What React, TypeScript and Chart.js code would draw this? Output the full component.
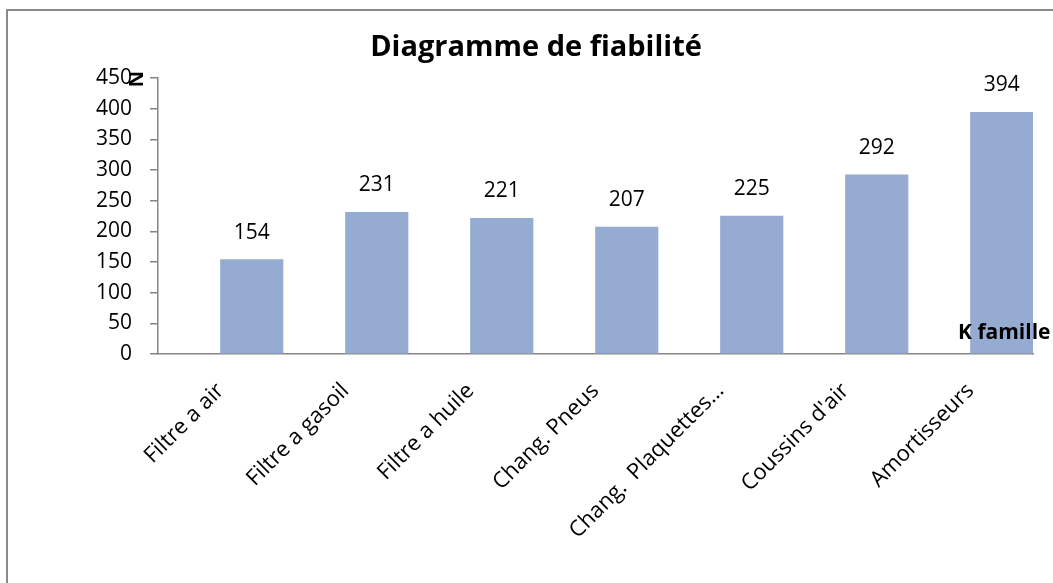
import React, { useEffect, useRef } from "react";
import { Chart, registerables } from "chart.js";

Chart.register(...registerables);

const categories = [
  "Filtre a air",
  "Filtre a gasoil",
  "Filtre a huile",
  "Chang. Pneus",
  "Chang.  Plaquettes…",
  "Coussins d'air",
  "Amortisseurs",
];
const emptySeries = [null, null, null, null, null, null, null];
const kFamille = [154, 231, 221, 207, 225, 292, 394];
const yMin = 0;
const yMax = 450;
const yStep = 50;

const titleText = "Diagramme de fiabilité";
const yTitleText = "N";
const xTitleText = "K famille";

const FONT = "'Open Sans', sans-serif";
const AXIS_COLOR = "#868686";
const BAR_COLOR = "#95abd2";

export default function App() {
  const ref = useRef<HTMLCanvasElement | null>(null);

  useEffect(() => {
    const canvas = ref.current;
    if (!canvas) return;

    const decor = {
      id: "decor",
      afterDraw(chart: any) {
        const ctx = chart.ctx;
        ctx.save();
        // outer frame (top & left visible)
        ctx.strokeStyle = "#8a8a8a";
        ctx.lineWidth = 2;
        ctx.beginPath();
        ctx.moveTo(1060, 10);
        ctx.lineTo(7, 10);
        ctx.lineTo(7, 600);
        ctx.stroke();

        // title
        ctx.fillStyle = "#000";
        ctx.font = `bold 29px ${FONT}`;
        ctx.textAlign = "center";
        ctx.textBaseline = "middle";
        ctx.fillText(titleText, 536, 48);

        // value labels
        const meta = chart.getDatasetMeta(1);
        ctx.font = `21px ${FONT}`;
        meta.data.forEach((bar: any, i: number) => {
          ctx.fillText(String(kFamille[i]), bar.x, bar.y - 27);
        });

        // y title rotated
        ctx.save();
        ctx.translate(137, 79);
        ctx.rotate(-Math.PI / 2);
        ctx.font = `bold 20px ${FONT}`;
        ctx.fillText(yTitleText, 0, 0);
        ctx.restore();

        // x title
        ctx.font = `bold 21px ${FONT}`;
        ctx.textAlign = "left";
        ctx.fillText(xTitleText, 958, 333);
        ctx.restore();
      },
    };

    const chart = new Chart(canvas, {
      type: "bar",
      data: {
        labels: categories,
        datasets: [
          { label: "", data: emptySeries as any, backgroundColor: BAR_COLOR },
          { label: xTitleText, data: kFamille, backgroundColor: BAR_COLOR },
        ],
      },
      options: {
        responsive: false,
        maintainAspectRatio: false,
        animation: false,
        layout: { padding: { top: 78, right: 20, left: 0, bottom: 0 } },
        datasets: {
          bar: { categoryPercentage: 1, barPercentage: 1 },
        },
        plugins: {
          legend: { display: false },
          tooltip: { enabled: false },
          title: { display: false },
        },
        scales: {
          x: {
            afterFit(scale: any) {
              scale.height = 229;
            },
            grid: { display: false, drawTicks: false },
            border: { display: true, color: AXIS_COLOR, width: 1.5 },
            ticks: {
              color: "#000",
              font: { family: FONT, size: 22 },
              minRotation: 45,
              maxRotation: 45,
              autoSkip: false,
              padding: 24,
            },
          },
          y: {
            min: yMin,
            max: yMax,
            afterFit(scale: any) {
              scale.width = 158;
            },
            grid: {
              drawOnChartArea: false,
              drawTicks: true,
              tickLength: 8,
              color: AXIS_COLOR,
              lineWidth: 1.5,
            },
            border: { display: true, color: AXIS_COLOR, width: 1.5 },
            ticks: {
              stepSize: yStep,
              color: "#000",
              font: { family: FONT, size: 21 },
              padding: 18,
            },
          },
        },
      },
      plugins: [decor],
    });

    return () => chart.destroy();
  }, []);

  return (
    <div style={{ position: "fixed", left: 0, top: 0, width: 1053, height: 583, overflow: "hidden", background: "#fff" }}>
      <canvas ref={ref} width={1053} height={583} style={{ width: 1053, height: 583, display: "block" }} />
    </div>
  );
}
